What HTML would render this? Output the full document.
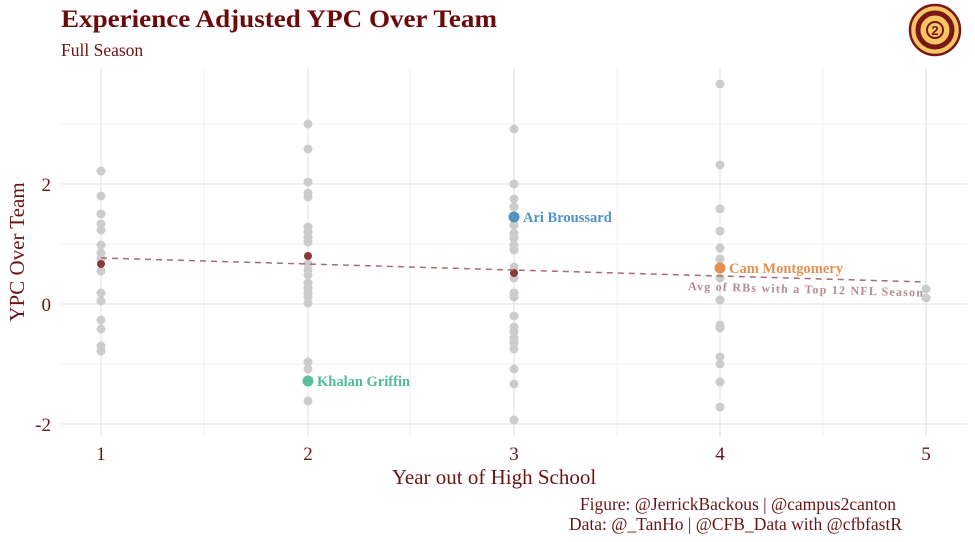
<!DOCTYPE html>
<html><head><meta charset="utf-8"><style>
html,body{margin:0;padding:0;background:#fff;}
svg{display:block;font-family:"Liberation Serif",serif;}
</style></head><body>
<svg width="975" height="542" viewBox="0 0 975 542" xmlns="http://www.w3.org/2000/svg">
<rect width="975" height="542" fill="#fff"/>
<g stroke="#f0f0f0" stroke-width="1">
<line x1="60" x2="967" y1="124" y2="124"/><line x1="60" x2="967" y1="244" y2="244"/><line x1="60" x2="967" y1="364" y2="364"/>
<line x1="204" x2="204" y1="68" y2="437"/><line x1="410" x2="410" y1="68" y2="437"/><line x1="617" x2="617" y1="68" y2="437"/><line x1="823" x2="823" y1="68" y2="437"/>
</g>
<g stroke="#e6e6e6" stroke-width="1.3">
<line x1="60" x2="967" y1="184" y2="184"/><line x1="60" x2="967" y1="304" y2="304"/><line x1="60" x2="967" y1="424" y2="424"/>
<line x1="101" x2="101" y1="68" y2="437"/><line x1="308" x2="308" y1="68" y2="437"/><line x1="514" x2="514" y1="68" y2="437"/><line x1="720" x2="720" y1="68" y2="437"/><line x1="926" x2="926" y1="68" y2="437"/>
</g>
<g fill="#cccccc">
<circle cx="101" cy="171" r="4.5"/><circle cx="101" cy="196" r="4.5"/><circle cx="101" cy="214" r="4.5"/><circle cx="101" cy="224" r="4.5"/><circle cx="101" cy="230" r="4.5"/><circle cx="101" cy="245" r="4.5"/><circle cx="101" cy="253" r="4.5"/><circle cx="101" cy="259" r="4.5"/><circle cx="101" cy="271" r="4.5"/><circle cx="101" cy="293" r="4.5"/><circle cx="101" cy="301" r="4.5"/><circle cx="101" cy="320" r="4.5"/><circle cx="101" cy="329" r="4.5"/><circle cx="101" cy="346" r="4.5"/><circle cx="101" cy="351" r="4.5"/>
<circle cx="308" cy="124" r="4.5"/><circle cx="308" cy="149" r="4.5"/><circle cx="308" cy="182" r="4.5"/><circle cx="308" cy="193" r="4.5"/><circle cx="308" cy="197" r="4.5"/><circle cx="308" cy="227" r="4.5"/><circle cx="308" cy="232" r="4.5"/><circle cx="308" cy="237" r="4.5"/><circle cx="308" cy="242" r="4.5"/><circle cx="308" cy="264" r="4.5"/><circle cx="308" cy="270" r="4.5"/><circle cx="308" cy="275" r="4.5"/><circle cx="308" cy="283" r="4.5"/><circle cx="308" cy="288" r="4.5"/><circle cx="308" cy="293" r="4.5"/><circle cx="308" cy="297" r="4.5"/><circle cx="308" cy="303" r="4.5"/><circle cx="308" cy="362" r="4.5"/><circle cx="308" cy="369" r="4.5"/><circle cx="308" cy="401" r="4.5"/>
<circle cx="514" cy="129" r="4.5"/><circle cx="514" cy="184" r="4.5"/><circle cx="514" cy="199" r="4.5"/><circle cx="514" cy="207" r="4.5"/><circle cx="514" cy="225" r="4.5"/><circle cx="514" cy="233" r="4.5"/><circle cx="514" cy="238" r="4.5"/><circle cx="514" cy="245" r="4.5"/><circle cx="514" cy="250" r="4.5"/><circle cx="514" cy="267" r="4.5"/><circle cx="514" cy="278" r="4.5"/><circle cx="514" cy="293" r="4.5"/><circle cx="514" cy="297" r="4.5"/><circle cx="514" cy="316" r="4.5"/><circle cx="514" cy="327" r="4.5"/><circle cx="514" cy="332" r="4.5"/><circle cx="514" cy="338" r="4.5"/><circle cx="514" cy="343" r="4.5"/><circle cx="514" cy="349" r="4.5"/><circle cx="514" cy="369" r="4.5"/><circle cx="514" cy="384" r="4.5"/><circle cx="514" cy="420" r="4.5"/>
<circle cx="720" cy="84" r="4.5"/><circle cx="720" cy="165" r="4.5"/><circle cx="720" cy="209" r="4.5"/><circle cx="720" cy="231" r="4.5"/><circle cx="720" cy="248" r="4.5"/><circle cx="720" cy="259" r="4.5"/><circle cx="720" cy="278" r="4.5"/><circle cx="720" cy="300" r="4.5"/><circle cx="720" cy="325" r="4.5"/><circle cx="720" cy="328" r="4.5"/><circle cx="720" cy="357" r="4.5"/><circle cx="720" cy="364" r="4.5"/><circle cx="720" cy="382" r="4.5"/><circle cx="720" cy="407" r="4.5"/>
<circle cx="926" cy="289" r="4.5"/><circle cx="926" cy="298" r="4.5"/>
</g>
<g fill="#8b3a3a"><circle cx="101" cy="264" r="4"/><circle cx="308" cy="256" r="4"/><circle cx="514" cy="273" r="4"/></g>
<line x1="101" y1="258" x2="926" y2="282" stroke="#a86a72" stroke-width="1.5" stroke-dasharray="6,5"/>
<circle cx="514" cy="217" r="5.5" fill="#4f93c2"/>
<circle cx="720" cy="268" r="5.5" fill="#e39150"/>
<circle cx="308" cy="381" r="5.5" fill="#5cbf9b"/>
<g font-weight="bold" font-size="14.5">
<text x="523" y="222" fill="#4f93c2">Ari Broussard</text>
<text x="729" y="273" fill="#e39150">Cam Montgomery</text>
<text x="317" y="386" fill="#4dbb95">Khalan Griffin</text>
</g>
<text x="688" y="290" font-size="12" font-weight="bold" fill="#b38b92" letter-spacing="1" textLength="236" lengthAdjust="spacing" transform="rotate(1.6 688 290)">Avg of RBs with a Top 12 NFL Season</text>
<g fill="#6b1414" font-size="19">
<text x="101" y="460" text-anchor="middle">1</text><text x="308" y="460" text-anchor="middle">2</text><text x="514" y="460" text-anchor="middle">3</text><text x="720" y="460" text-anchor="middle">4</text><text x="926" y="460" text-anchor="middle">5</text>
<text x="51" y="191" text-anchor="end">2</text><text x="51" y="311" text-anchor="end">0</text><text x="51" y="431" text-anchor="end">-2</text>
<text x="494" y="484" text-anchor="middle" font-size="21">Year out of High School</text>
<text transform="translate(24 252) rotate(-90)" text-anchor="middle" font-size="21">YPC Over Team</text>
</g>
<text x="61" y="27" font-size="25" font-weight="bold" fill="#6b0a0a" textLength="436" lengthAdjust="spacingAndGlyphs">Experience Adjusted YPC Over Team</text>
<text x="61" y="56" font-size="17.5" fill="#6b1414">Full Season</text>
<g fill="#6b1414" font-size="17.5" text-anchor="end">
<text x="896" y="510">Figure: @JerrickBackous | @campus2canton</text>
<text x="902" y="530">Data: @_TanHo | @CFB_Data with @cfbfastR</text>
</g>
<g transform="translate(935 30)">
<circle r="25" fill="#f7c564" stroke="#7a1616" stroke-width="2.5"/>
<circle r="17" fill="none" stroke="#7a1616" stroke-width="5"/>
<circle r="8" fill="#f7c564" stroke="#7a1616" stroke-width="2"/>
<text y="5" text-anchor="middle" font-size="13" font-weight="bold" fill="#7a1616" font-family="Liberation Sans, sans-serif">2</text>
</g>
</svg>
</body></html>
